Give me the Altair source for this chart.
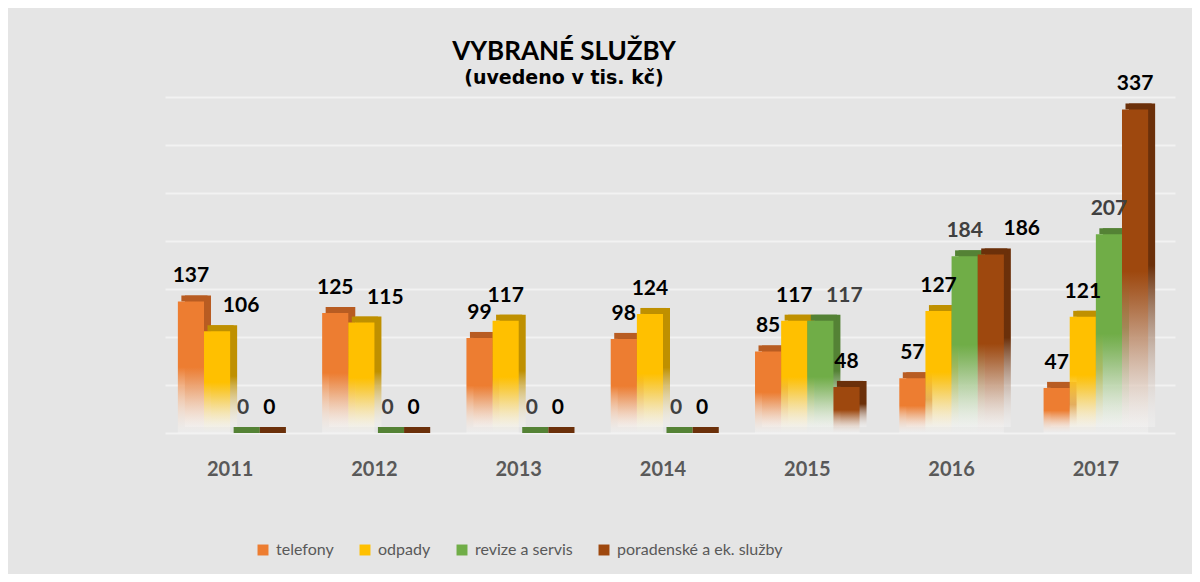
import altair as alt
import pandas as pd

years = ["2011", "2012", "2013", "2014", "2015", "2016", "2017"]
series = ["telefony", "odpady", "revize a servis", "poradenské a ek. služby"]
telefony = [137, 125, 99, 98, 85, 57, 47]
odpady = [106, 115, 117, 124, 117, 127, 121]
revize = [0, 0, 0, 0, 117, 184, 207]
poradenske = [0, 0, 0, 0, 48, 186, 337]
front_colors = ["#ED7D31", "#FFC000", "#70AD47", "#9E480E"]
side_colors = ["#B85C22", "#BF9000", "#548235", "#6B300A"]

values = [telefony, odpady, revize, poradenske]
rows = []
for s, vals in zip(series, values):
    for y, v in zip(years, vals):
        rows.append({"year": y, "series": s, "value": v})
df = pd.DataFrame(rows)

FONT = "Lato"
W, H = 1010, 336
DEPTH_X, DEPTH_Y = 7, 6


def grad(c, solid_to=0.5):
    return {
        "gradient": "linear",
        "x1": 0, "x2": 0, "y1": 0, "y2": 1,
        "stops": [
            {"offset": 0, "color": c},
            {"offset": solid_to, "color": c},
            {"offset": 1, "color": "rgba(255,255,255,0.25)"},
        ],
    }


def x_enc(shift=0, show_axis=True):
    axis = alt.Axis(
        title=None, labelAngle=0, ticks=False, domain=False, grid=False,
        labelFont=FONT, labelFontWeight="bold", labelFontSize=20,
        labelColor="#595959", labelPadding=26,
    ) if show_axis else None
    return alt.X(
        "year:N",
        sort=years,
        scale=alt.Scale(paddingInner=0, paddingOuter=0, range=[shift, W + shift]),
        axis=axis,
    )


xo_enc = alt.XOffset("series:N", sort=series,
                     scale=alt.Scale(paddingInner=0, paddingOuter=0.76))
y_enc = alt.Y(
    "value:Q",
    scale=alt.Scale(domain=[0, 350], nice=False),
    axis=alt.Axis(
        title=None, labels=False, ticks=False, domain=False,
        values=[0, 50, 100, 150, 200, 250, 300, 350],
        grid=True, gridColor="#f2f2f2", gridWidth=2,
    ),
)

base = alt.Chart(df)

backs = []
tops = []
fronts = []
for s, fc, sc in zip(series, front_colors, side_colors):
    sub = base.transform_filter(alt.datum.series == s)
    backs.append(
        sub.mark_bar(color=grad(sc), yOffset=-DEPTH_Y)
        .encode(x=x_enc(DEPTH_X, False), xOffset=xo_enc, y=y_enc)
    )
    # thin top face, visible also for zero-value bars
    tops.append(
        sub.mark_rect(color=sc, yOffset=-DEPTH_Y, y2Offset=0)
        .encode(x=x_enc(DEPTH_X / 2, False), xOffset=xo_enc, y=y_enc,
                y2=alt.Y2("value:Q"))
    )
    fronts.append(
        sub.mark_bar(color=grad(fc)).encode(x=x_enc(), xOffset=xo_enc, y=y_enc)
    )

# labels nudged to the right where the original chart moved them aside
nudge_expr = (
    "(datum.series == 'odpady' && (datum.year == '2011' || datum.year == '2012')) ? 24 : "
    "(datum.series == 'revize a servis' && datum.year == '2015') ? 24 : "
    "(datum.series == 'poradenské a ek. služby' && datum.year == '2016') ? 31 : 0"
)

labels = base.mark_text(
    dy=-25, font=FONT, fontWeight="bold", fontSize=21, baseline="middle",
    dx=alt.expr(nudge_expr),
).encode(
    x=x_enc(), xOffset=xo_enc, y=y_enc,
    text=alt.Text("value:Q"),
    color=alt.condition(alt.datum.series == "revize a servis",
                        alt.value("#404040"), alt.value("#000000")),
)

legend_layer = base.mark_square(opacity=0).encode(
    x=x_enc(), xOffset=xo_enc, y=y_enc,
    fill=alt.Fill(
        "series:N", sort=series,
        scale=alt.Scale(domain=series, range=front_colors),
        legend=alt.Legend(
            orient="none", legendX=97, legendY=445, direction="horizontal",
            columns=4, title=None, symbolType="square", symbolSize=120,
            symbolOpacity=1, symbolStrokeWidth=0, labelLimit=400,
            labelFont=FONT, labelFontSize=16, labelColor="#595959",
            columnPadding=23, labelOffset=5,
        ),
    ),
)

back_group = alt.layer(*backs)
top_group = alt.layer(*tops)
front_group = alt.layer(*fronts, labels, legend_layer)

chart = alt.layer(back_group, top_group, front_group).resolve_scale(x="independent").properties(
    width=W,
    height=H,
    autosize=alt.AutoSizeParams(type="none"),
    padding={"left": 150, "top": 89, "right": 24, "bottom": 141},
    background="#e5e5e5",
    title=alt.TitleParams(
        text="VYBRANÉ SLUŽBY",
        subtitle="(uvedeno v tis. kč)",
        anchor="middle", frame="group", dx=-99, dy=17, offset=2,
        font=FONT, fontSize=26, fontWeight="bold", color="#000000",
        subtitleFont="DejaVu Sans", subtitleFontSize=19, subtitleFontWeight="bold",
        subtitleColor="#000000", subtitlePadding=4,
    ),
).configure_view(strokeWidth=0)

chart.save("out.html", embed_options={"renderer": "svg", "actions": False})
